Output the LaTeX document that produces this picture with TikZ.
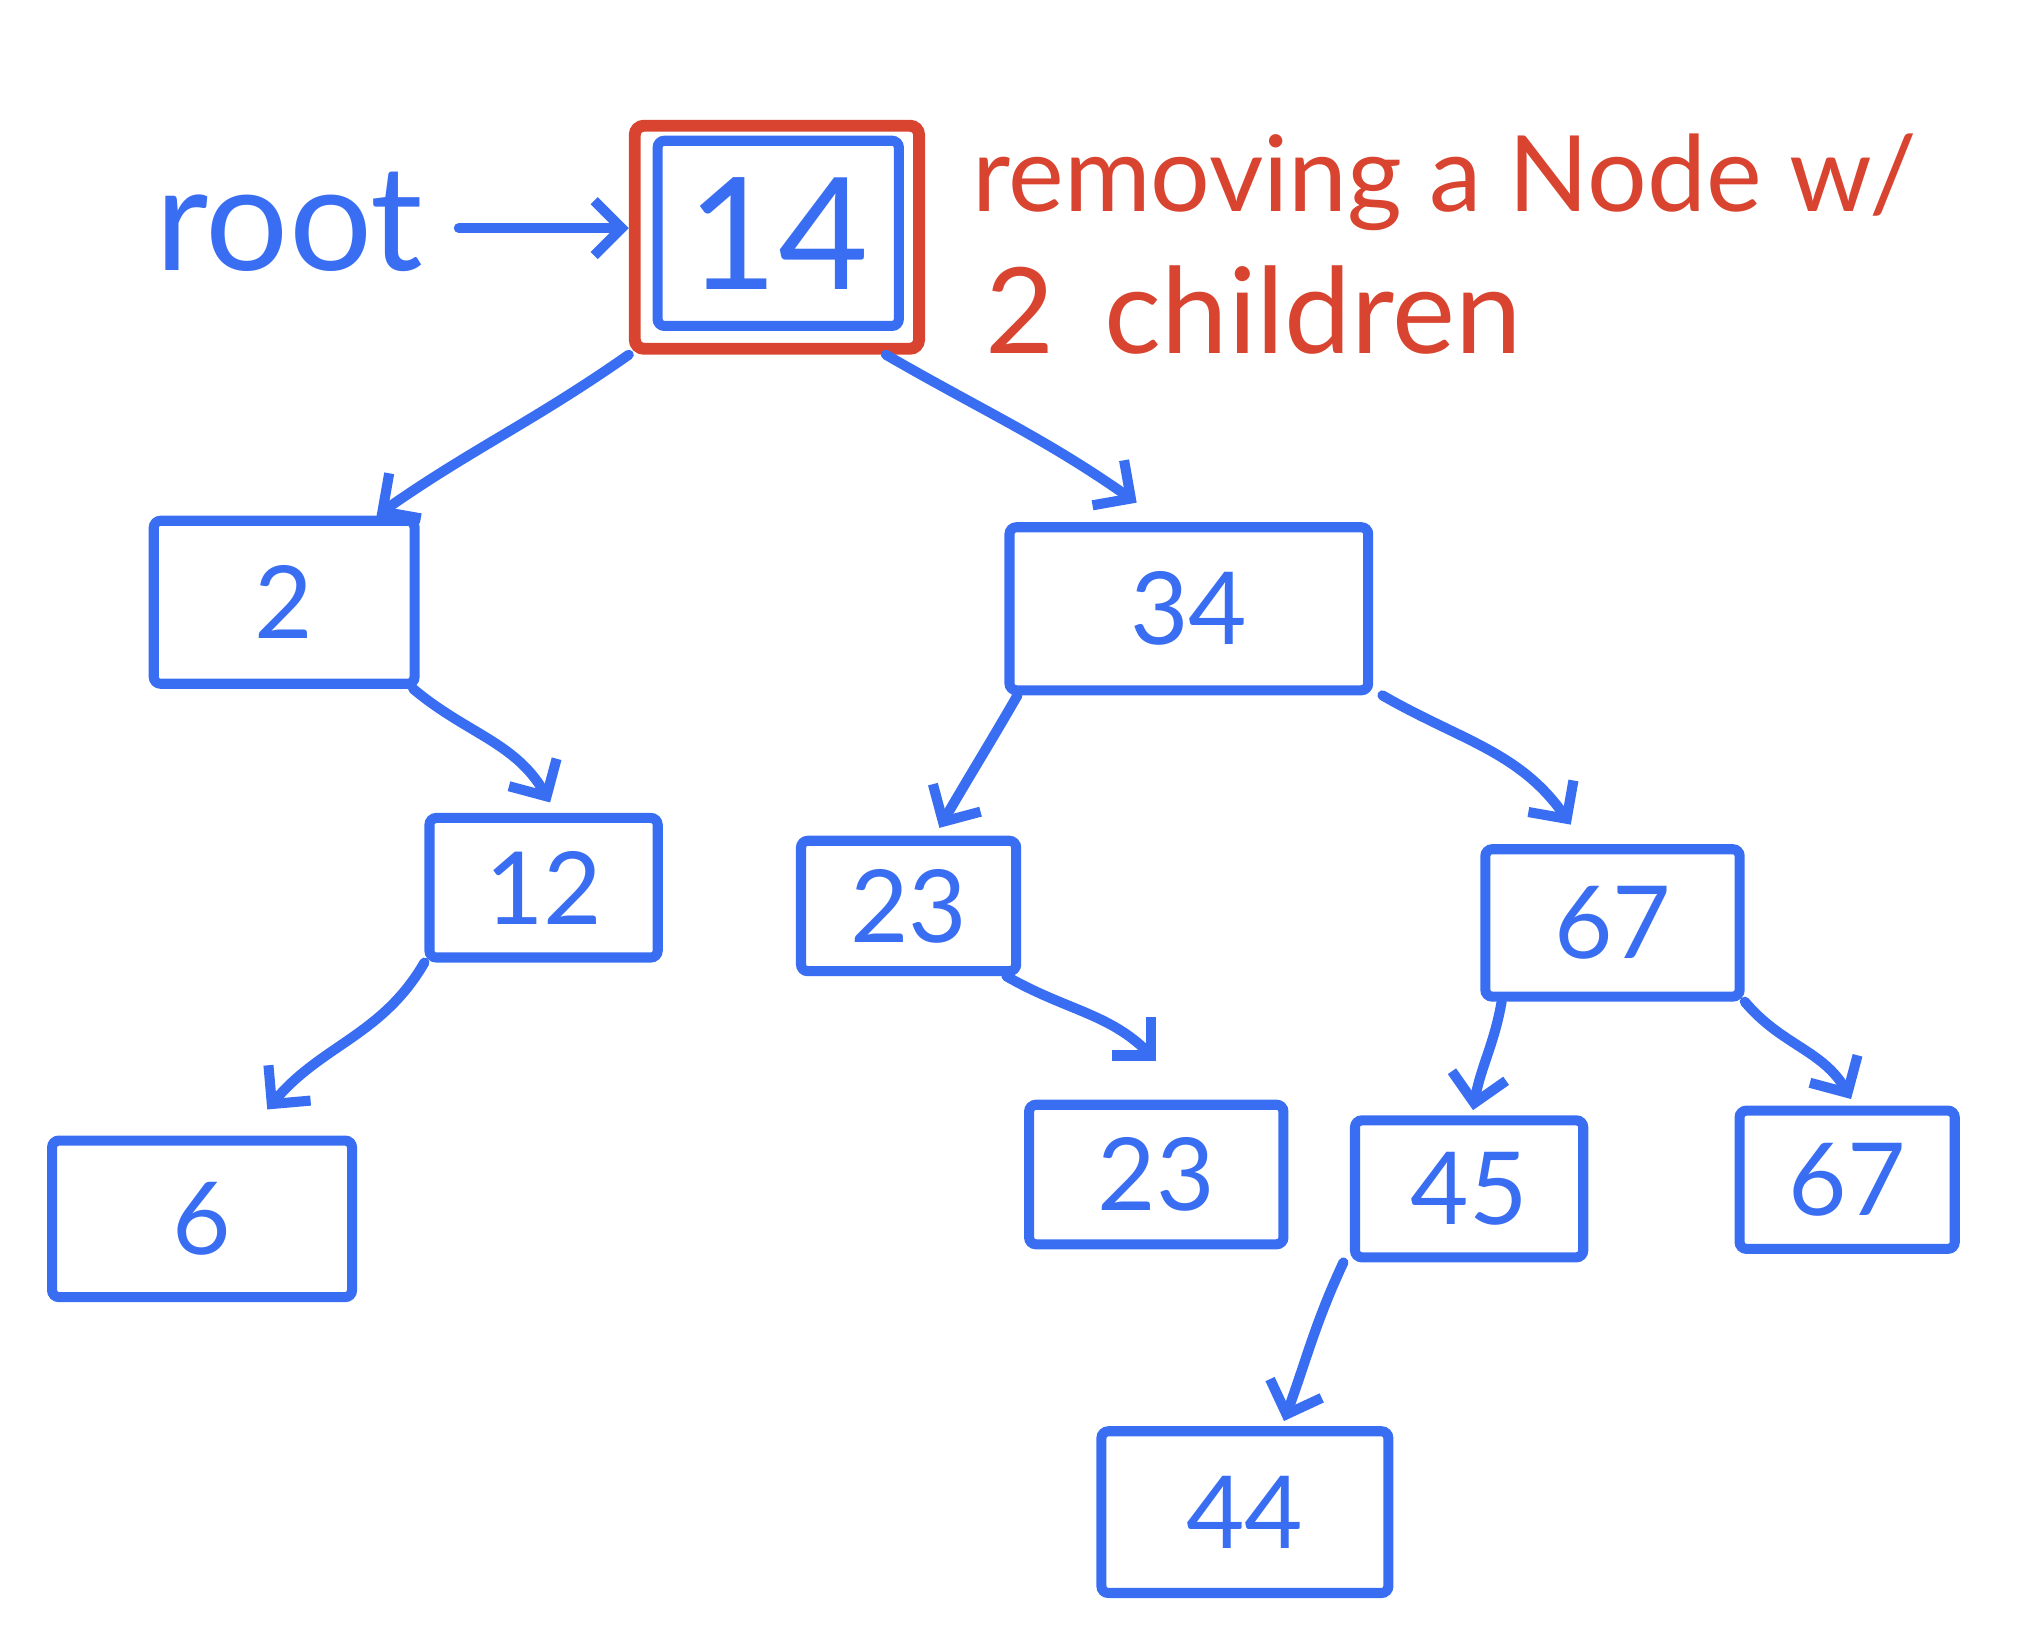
\documentclass[tikz,border=0pt]{standalone}
\usepackage{fontspec}
\setmainfont{Lato}
\usetikzlibrary{arrows.meta}
\definecolor{pen}{HTML}{3A6EF2}
\definecolor{redpen}{HTML}{D8442F}
\tikzset{
  bx/.style={draw=pen, line width=2.2pt, rounded corners=1.5pt, inner sep=0pt, text=pen,
    font=\fontsize{22}{22}\selectfont},
  edge/.style={draw=pen, line width=2.2pt, line cap=round,
    -{Straight Barb[length=6pt,width=12pt,line width=2.2pt]}},
  redbox/.style={draw=redpen, line width=2.6pt, rounded corners=2pt, inner sep=0pt},
}
\begin{document}
\begin{tikzpicture}[x=0.01cm, y=-0.01cm]
\useasboundingbox (0,0) rectangle (1568,1260);
% nodes
\node[bx, minimum width=1.85cm, minimum height=1.42cm, font=\fontsize{34}{34}\selectfont] (n14) at (597,179) {14};
\node[redbox, minimum width=2.18cm, minimum height=1.71cm] (sel) at (596,182) {};
\node[bx, minimum width=2.00cm, minimum height=1.25cm] (n2) at (218,462) {2};
\node[bx, minimum width=2.75cm, minimum height=1.25cm] (n34) at (912,467) {34};
\node[bx, minimum width=1.75cm, minimum height=1.07cm] (n12) at (417,681) {12};
\node[bx, minimum width=1.65cm, minimum height=1.00cm] (n23a) at (697,695) {23};
\node[bx, minimum width=1.95cm, minimum height=1.13cm] (n67) at (1237,708) {67};
\node[bx, minimum width=2.30cm, minimum height=1.20cm] (n6) at (155,935) {6};
\node[bx, minimum width=1.95cm, minimum height=1.07cm] (n23b) at (887,901) {23};
\node[bx, minimum width=1.75cm, minimum height=1.05cm] (n45) at (1127,912) {45};
\node[bx, minimum width=1.65cm, minimum height=1.06cm] (n67b) at (1417,905) {67};
\node[bx, minimum width=2.20cm, minimum height=1.24cm] (n44) at (955,1160) {44};
% labels
\node[text=pen, font=\fontsize{32}{32}\selectfont, inner sep=0pt] (root) at (222,170) {root};
\coordinate (rootarr) at (352,175);
\node[text=redpen, font=\fontsize{23}{23}\selectfont, anchor=west, inner sep=0pt] (lab1) at (745,140) {removing a Node w/};
\node[text=redpen, font=\fontsize{26}{26}\selectfont, anchor=west, inner sep=0pt] (lab2) at (755,238) {2\, children};
% connectors
\draw[edge] (rootarr) -- (sel.west |- rootarr);
\draw[edge] (sel.south west) to[out=-145,in=35] ([xshift=-0.33cm]n2.north east);
\draw[edge] ([xshift=-0.3cm]sel.south east) to[out=-30,in=145] ([xshift=-0.4cm,yshift=0.15cm]n34.north);
\draw[edge] ([xshift=-0.05cm]n2.south east) to[out=-40,in=120] ([xshift=0.05cm,yshift=0.08cm]n12.north);
\draw[edge] ([xshift=0.1cm]n34.south west) to[out=-120,in=60] ([xshift=1.1cm,yshift=0.06cm]n23a.north west);
\draw[edge] ([xshift=0.07cm]n34.south east) to[out=-30,in=125] ([xshift=-0.32cm,yshift=0.15cm]n67.north);
\draw[edge] (n12.south west) to[out=-120,in=50] ([xshift=0.5cm,yshift=0.2cm]n6.north);
\draw[edge] ([xshift=0.75cm]n23a.south) to[out=-30,in=135] ([xshift=0.0cm,yshift=0.3cm]n23b.north);
\draw[edge] ([xshift=-0.85cm]n67.south) to[out=-100,in=80] ([xshift=0.03cm,yshift=0.04cm]n45.north);
\draw[edge] (n67.south east) to[out=-50,in=120] ([xshift=0.03cm,yshift=0.05cm]n67b.north);
\draw[edge] ([xshift=-0.05cm]n45.south west) to[out=-115,in=70] ([xshift=0.3cm,yshift=0.04cm]n44.north);
\end{tikzpicture}
\end{document}
